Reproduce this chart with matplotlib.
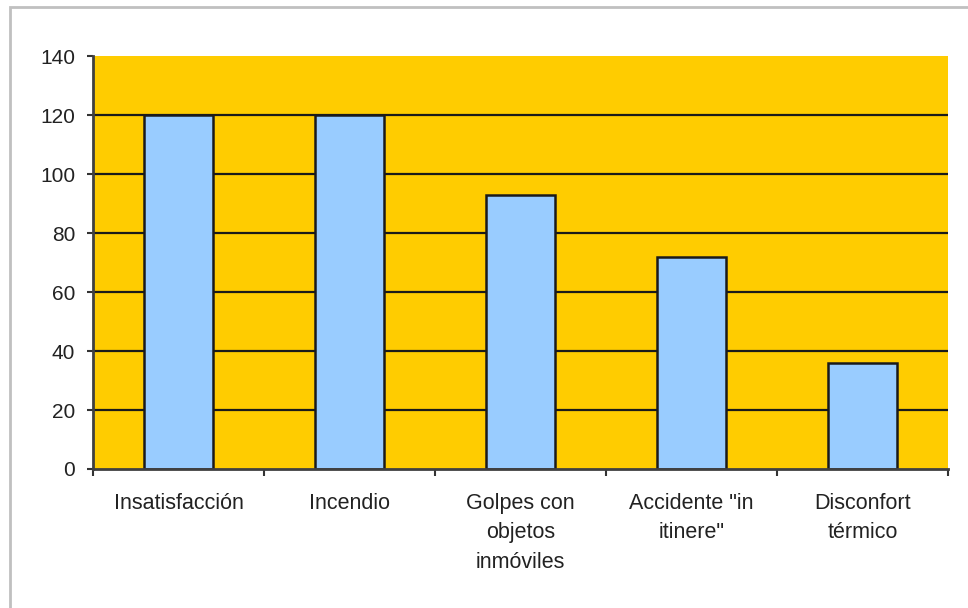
import matplotlib.pyplot as plt
from matplotlib.patches import Rectangle
from matplotlib.ticker import FixedLocator, NullFormatter

plt.rcParams['font.family'] = ['Liberation Sans', 'DejaVu Sans']

categories = ['Insatisfacción', 'Incendio', 'Golpes con\nobjetos\ninmóviles',
              'Accidente "in\nitinere"', 'Disconfort\ntérmico']
values = [120, 120, 93, 72, 36]
yticks = [0, 20, 40, 60, 80, 100, 120, 140]

fig = plt.figure(figsize=(9.68, 6.08), dpi=100)
fig.patch.set_facecolor('white')

# light gray frame on top/left like the original screenshot
fig.add_artist(Rectangle((10 / 968, -0.1), 1.2, 1 - 6.5 / 608 + 0.1,
                         transform=fig.transFigure, fill=False,
                         edgecolor='#c0c0c0', linewidth=2))

ax = fig.add_axes([93 / 968, 1 - 469 / 608, (948 - 93) / 968, (469 - 56) / 608])
ax.set_facecolor('#FFCC00')

x = range(len(categories))
ax.set_xlim(-0.5, len(categories) - 0.5)
ax.set_ylim(0, 140)

for y in yticks[1:-1]:
    ax.axhline(y, color='#1a1a1a', linewidth=1.6, zorder=1)

ax.bar(x, values, width=0.4, color='#99CCFF', edgecolor='#1a1a1a',
       linewidth=1.8, zorder=2)

ax.set_yticks(yticks)
ax.tick_params(axis='y', labelsize=15, colors='#333333', length=4.3, width=1.5,
               pad=8.6, labelcolor='#222222')

ax.set_xticks(list(x))
ax.set_xticklabels(categories, fontsize=15.5, color='#222222', linespacing=1.55)
ax.tick_params(axis='x', length=0, pad=17)
ax.xaxis.set_minor_locator(FixedLocator([i - 0.5 for i in range(len(categories) + 1)]))
ax.xaxis.set_minor_formatter(NullFormatter())
ax.tick_params(axis='x', which='minor', length=5, width=1.5, colors='#333333')

for side in ['top', 'right']:
    ax.spines[side].set_visible(False)
for side in ['left', 'bottom']:
    ax.spines[side].set_color('#404040')
    ax.spines[side].set_linewidth(2)

for lbl in ax.get_xticklabels():
    lbl.set_verticalalignment('top')

fig.savefig('out.png', dpi=100, facecolor='white')
